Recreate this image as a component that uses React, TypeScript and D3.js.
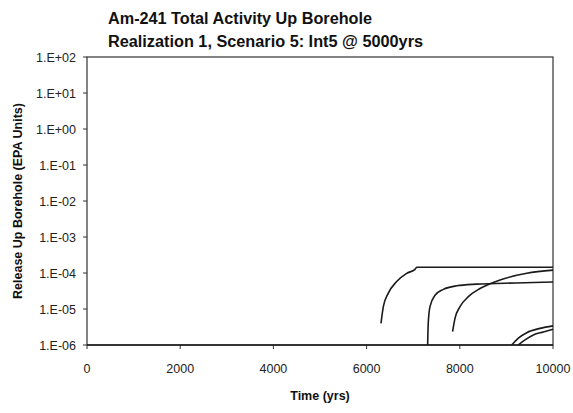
import React, { useEffect, useRef } from "react";
import * as d3 from "d3";

const titleLines = ["Am-241 Total Activity Up Borehole", "Realization 1, Scenario 5: Int5 @ 5000yrs"];
const xTicks = [0, 2000, 4000, 6000, 8000, 10000];
const yTicks = [1e2, 1e1, 1e0, 1e-1, 1e-2, 1e-3, 1e-4, 1e-5, 1e-6];
const yTickLabels = ["1.E+02", "1.E+01", "1.E+00", "1.E-01", "1.E-02", "1.E-03", "1.E-04", "1.E-05", "1.E-06"];

const s1t = [6309, 6359, 6466, 6645, 6860, 7039, 7074, 8500, 10000];
const s1v = [4.0e-6, 1.16e-5, 2.75e-5, 5.8e-5, 9.8e-5, 1.26e-4, 1.44e-4, 1.44e-4, 1.44e-4];
const s2t = [7310, 7323, 7360, 7468, 7647, 7933, 8362, 9200, 10000];
const s2v = [1e-6, 4e-6, 1.16e-5, 2.4e-5, 3.5e-5, 4.4e-5, 4.9e-5, 5.3e-5, 5.6e-5];
const s3t = [7845, 7897, 8004, 8183, 8433, 8863, 9436, 10000];
const s3v = [2.34e-6, 5.5e-6, 1.16e-5, 2.2e-5, 3.7e-5, 6.4e-5, 9.8e-5, 1.2e-4];
const s4t = [9113, 9256, 9436, 9721, 10000];
const s4v = [1e-6, 1.55e-6, 2.2e-6, 2.9e-6, 3.4e-6];
const s5t = [9256, 9399, 9578, 9793, 10000];
const s5v = [1e-6, 1.38e-6, 1.9e-6, 2.3e-6, 2.75e-6];
const s0t = [0, 10000];
const s0v = [1e-6, 1e-6];

const series = [
  { t: s0t, v: s0v },
  { t: s1t, v: s1v },
  { t: s2t, v: s2v },
  { t: s3t, v: s3v },
  { t: s4t, v: s4v },
  { t: s5t, v: s5v },
];

const W = 573, H = 413;
const L = 87, R = 553, T = 57, B = 345;
const font = "'Liberation Sans', Arial, sans-serif";

export default function App() {
  const ref = useRef<SVGSVGElement>(null);
  useEffect(() => {
    const svg = d3.select(ref.current);
    svg.selectAll("*").remove();
    const x = d3.scaleLinear().domain([0, 10000]).range([L, R]);
    const y = d3.scaleLog().domain([1e-6, 1e2]).range([B, T]);

    svg.append("rect").attr("width", W).attr("height", H).attr("fill", "#fff");

    // frame
    svg.append("rect").attr("x", L).attr("y", T).attr("width", R - L).attr("height", B - T)
      .attr("fill", "none").attr("stroke", "#333").attr("stroke-width", 1.2);

    // y ticks
    const gy = svg.append("g");
    yTicks.forEach((v, i) => {
      gy.append("line").attr("x1", L - 4).attr("x2", L).attr("y1", y(v)).attr("y2", y(v))
        .attr("stroke", "#333").attr("stroke-width", 1);
      gy.append("text").attr("x", L - 11).attr("y", y(v) + 4.5).attr("text-anchor", "end")
        .attr("font-family", font).attr("font-size", 12.5).attr("fill", "#222").text(yTickLabels[i]);
    });
    // x ticks
    const gx = svg.append("g");
    xTicks.forEach((v) => {
      gx.append("line").attr("x1", x(v)).attr("x2", x(v)).attr("y1", B).attr("y2", B + 4)
        .attr("stroke", "#333").attr("stroke-width", 1);
      gx.append("text").attr("x", x(v)).attr("y", B + 28).attr("text-anchor", "middle")
        .attr("font-family", font).attr("font-size", 12.5).attr("fill", "#222").text(String(v));
    });

    const line = d3.line<[number, number]>().x((d) => x(d[0])).y((d) => y(d[1])).curve(d3.curveMonotoneX);
    series.forEach((s) => {
      const pts = s.t.map((t, i) => [t, s.v[i]] as [number, number]);
      svg.append("path").attr("d", line(pts)).attr("fill", "none").attr("stroke", "#1a1a1a").attr("stroke-width", 1.6);
    });

    // titles
    svg.append("text").attr("x", 108).attr("y", 24).attr("font-family", font).attr("font-weight", "bold")
      .attr("font-size", 16).attr("fill", "#111").attr("textLength", 264).attr("lengthAdjust", "spacingAndGlyphs").text(titleLines[0]);
    svg.append("text").attr("x", 108).attr("y", 47).attr("font-family", font).attr("font-weight", "bold")
      .attr("font-size", 16).attr("fill", "#111").attr("textLength", 315).attr("lengthAdjust", "spacingAndGlyphs").text(titleLines[1]);

    svg.append("text").attr("x", (L + R) / 2).attr("y", 400).attr("text-anchor", "middle")
      .attr("font-family", font).attr("font-weight", "bold").attr("font-size", 12.5).attr("fill", "#111").text("Time (yrs)");
    svg.append("text").attr("transform", `translate(22,${(T + B) / 2}) rotate(-90)`).attr("text-anchor", "middle")
      .attr("font-family", font).attr("font-weight", "bold").attr("font-size", 12.5).attr("fill", "#111")
      .text("Release Up Borehole (EPA Units)");
  }, []);
  return (
    <svg ref={ref} width={W} height={H} style={{ position: "absolute", left: 0, top: 0 }} />
  );
}
